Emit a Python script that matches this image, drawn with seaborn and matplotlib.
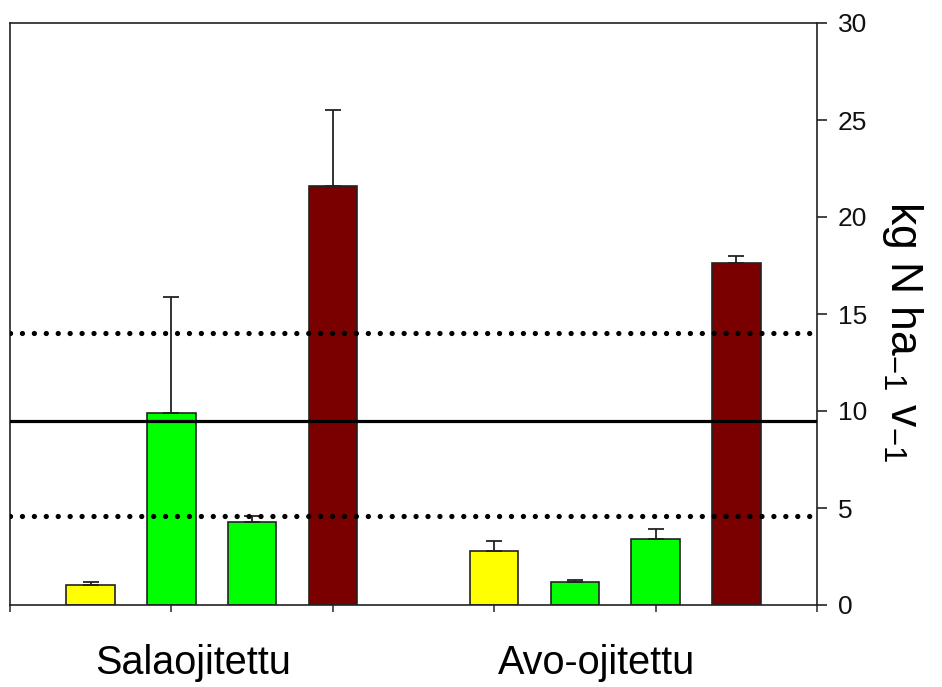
import matplotlib
matplotlib.use("Agg")
import matplotlib.pyplot as plt
import seaborn as sns
import pandas as pd

# Nitrogen load per treatment, two drainage types
groups = ["Salaojitettu", "Avo-ojitettu"]
positions = [1, 2, 3, 4, 6, 7, 8, 9]
values = [1.05, 9.9, 4.3, 21.6, 2.8, 1.18, 3.42, 17.65]
errors = [0.15, 6.0, 0.3, 3.9, 0.5, 0.1, 0.48, 0.35]
bar_colors = ["#FFFF00", "#00FF00", "#00FF00", "#7A0000",
              "#FFFF00", "#00FF00", "#00FF00", "#7A0000"]
group_label_x = [2.27, 7.27]

# Reference levels: mean (solid) and range (dotted)
ref_mean = 9.5
ref_range = [4.6, 14.0]

y_ticks = [0, 5, 10, 15, 20, 25, 30]

sns.set_theme(style="white")
plt.rcParams["font.family"] = ["Liberation Sans", "DejaVu Sans"]
plt.rcParams["mathtext.fontset"] = "custom"
plt.rcParams["mathtext.rm"] = "Liberation Sans"
plt.rcParams["mathtext.it"] = "Liberation Sans"

df = pd.DataFrame({"pos": positions, "value": values})

fig = plt.figure(figsize=(9.42, 6.87), dpi=100)
ax = fig.add_axes([10 / 942, 1 - 605 / 687, 807 / 942, 582 / 687])

sns.barplot(data=df, x="pos", y="value", hue="pos",
            palette=dict(zip(positions, bar_colors)), native_scale=True,
            width=0.6, errorbar=None, legend=False, saturation=1,
            edgecolor="#222222", linewidth=1.2, ax=ax, zorder=2)

# upper-only error bars
ax.errorbar(positions, values, yerr=[[0] * len(errors), errors], fmt="none",
            ecolor="#222222", elinewidth=1.3, capsize=6, capthick=1.3, zorder=3)

ax.axhline(ref_mean, color="black", lw=2.3, zorder=4)
for level in ref_range:
    ax.axhline(level, color="black", lw=3.8, linestyle=(0, (0.01, 2.25)),
               dash_capstyle="round", zorder=4)

ax.set_xlim(0, 10)
ax.set_ylim(0, 30)
ax.set_xticks([0, 2, 4, 6, 8, 10])
ax.set_xticklabels([])
ax.set_xlabel("")
ax.set_ylabel("")
ax.yaxis.tick_right()
ax.set_yticks(y_ticks)
ax.set_yticklabels([str(t) for t in y_ticks], fontsize=19)
ax.tick_params(axis="y", direction="out", length=7, width=1.1, pad=8,
               right=True, left=False, colors="#111111")
ax.tick_params(axis="x", direction="out", length=5, width=1.1, bottom=True)

for side in ["left", "right", "top", "bottom"]:
    ax.spines[side].set_visible(True)
    ax.spines[side].set_color("#222222")
    ax.spines[side].set_linewidth(1.2)

for gx, name in zip(group_label_x, groups):
    ax.text(gx, -0.10, name, transform=ax.get_xaxis_transform(),
            ha="center", va="center", fontsize=28.5, color="black")

fig.text(903 / 942, 1 - 332 / 687, r"kg N ha$_{-1}$ v$_{-1}$", rotation=270,
         ha="center", va="center", fontsize=32, color="black")

fig.savefig("out.png", dpi=100)
